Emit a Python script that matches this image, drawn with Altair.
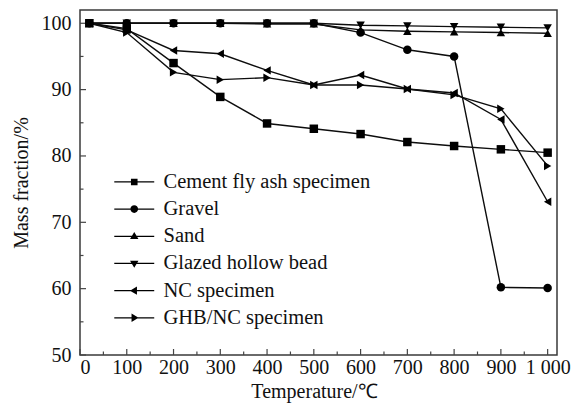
import altair as alt
import pandas as pd

# ---- data ----
temps = [20, 100, 200, 300, 400, 500, 600, 700, 800, 900, 1000]
cement = [100.0, 99.2, 94.0, 88.9, 84.9, 84.1, 83.3, 82.1, 81.5, 81.0, 80.5]
gravel = [100.0, 100.0, 100.0, 100.0, 100.0, 100.0, 98.6, 96.0, 95.0, 60.2, 60.1]
sand = [100.0, 100.0, 100.0, 100.0, 99.9, 99.9, 99.0, 98.8, 98.7, 98.6, 98.5]
glazed = [100.0, 100.0, 100.0, 100.0, 100.0, 100.0, 99.7, 99.6, 99.5, 99.4, 99.3]
nc = [100.0, 99.0, 95.9, 95.4, 92.9, 90.7, 92.2, 90.1, 89.5, 85.5, 73.1]
ghbnc = [100.0, 98.6, 92.6, 91.5, 91.8, 90.7, 90.7, 90.1, 89.2, 87.1, 78.5]

series_names = ["Cement fly ash specimen", "Gravel", "Sand",
                "Glazed hollow bead", "NC specimen", "GHB/NC specimen"]
series_values = [cement, gravel, sand, glazed, nc, ghbnc]
plot_shapes = ["square", "circle", "triangle-up", "triangle-down",
               "triangle-left", "triangle-right"]

# legend symbols: a short line (thin filled bar) with the marker in the middle
# (all sub-paths drawn clockwise so the nonzero fill does not cancel)
_ln = "M-3.33,-0.11H3.33V0.11H-3.33Z"
legend_shapes = [
    _ln + "M-0.55,-0.55H0.55V0.55H-0.55Z",
    _ln + "M0.64,0A0.64,0.64 0 1,1 -0.64,0A0.64,0.64 0 1,1 0.64,0Z",
    _ln + "M0,-0.72L0.7,0.45H-0.7Z",
    _ln + "M0,0.72L-0.7,-0.45H0.7Z",
    _ln + "M-0.72,0L0.45,-0.7V0.7Z",
    _ln + "M0.72,0L-0.45,0.7V-0.7Z",
]

x_major = [0, 100, 200, 300, 400, 500, 600, 700, 800, 900, 1000]
x_minor = [50, 150, 250, 350, 450, 550, 650, 750, 850, 950]
y_major = [50, 60, 70, 80, 90, 100]
y_minor = [55, 65, 75, 85, 95]

rows = []
for name, vals in zip(series_names, series_values):
    for t, v in zip(temps, vals):
        rows.append({"series": name, "temp": t, "mass": v})
df = pd.DataFrame(rows)

W, H = 477, 345
FONT = "Liberation Serif"

x_scale = alt.Scale(domain=[0, 1020], nice=False, zero=False)
y_scale = alt.Scale(domain=[50, 102], nice=False, zero=False)

x_enc = alt.X("temp:Q", scale=x_scale,
              axis=alt.Axis(values=x_major, title="Temperature/℃",
                            labelExpr="datum.value == 1000 ? '1 000' : datum.label",
                            ticks=False, domain=False, grid=False,
                            labelPadding=2, titlePadding=4, titleX=234))
y_enc = alt.Y("mass:Q", scale=y_scale,
              axis=alt.Axis(values=y_major, title="Mass fraction/%",
                            ticks=False, domain=False, grid=False,
                            labelPadding=9, titlePadding=10))

base = alt.Chart(df)

lines = base.mark_line(color="#0d0d0d", strokeWidth=1.4).encode(
    x=x_enc, y=y_enc, detail="series:N")

points = base.mark_point(filled=True, size=72, color="#000000", opacity=1).encode(
    x=x_enc, y=y_enc,
    shape=alt.Shape("series:N",
                    scale=alt.Scale(domain=series_names, range=plot_shapes),
                    legend=None))

legend_layer = base.transform_filter("false").mark_point(
    fill="#000000", stroke="#000000", strokeWidth=0.5, opacity=1).encode(
    x=x_enc, y=y_enc,
    shape=alt.Shape("series:N",
                    scale=alt.Scale(domain=series_names, range=legend_shapes),
                    legend=alt.Legend(title=None, orient="none", legendX=44, legendY=161.7,
                                      symbolSize=144, symbolStrokeWidth=0.5,
                                      symbolFillColor="#000000", symbolStrokeColor="#000000",
                                      symbolOpacity=1,
                                      labelFont=FONT, labelFontSize=20.5, labelColor="#111111",
                                      labelOffset=19, rowPadding=6.17, padding=0,
                                      labelLimit=400)))

tick_color = "#444444"
xt_major = alt.Chart(pd.DataFrame({"temp": x_major})).mark_rule(
    color=tick_color, strokeWidth=1.2).encode(x=x_enc, y=alt.value(H), y2=alt.value(H - 6))
xt_minor = alt.Chart(pd.DataFrame({"temp": x_minor})).mark_rule(
    color=tick_color, strokeWidth=1.2).encode(x=x_enc, y=alt.value(H), y2=alt.value(H - 3.5))
yt_major = alt.Chart(pd.DataFrame({"mass": y_major})).mark_rule(
    color=tick_color, strokeWidth=1.2).encode(y=y_enc, x=alt.value(0), x2=alt.value(6))
yt_minor = alt.Chart(pd.DataFrame({"mass": y_minor})).mark_rule(
    color=tick_color, strokeWidth=1.2).encode(y=y_enc, x=alt.value(0), x2=alt.value(3.5))

chart = alt.layer(
    xt_major, xt_minor, yt_major, yt_minor, lines, points, legend_layer
).resolve_scale(shape="independent").properties(
    width=W, height=H,
    padding={"left": 80, "top": 10, "right": 14, "bottom": 61},
    autosize=alt.AutoSizeParams(type="none"),
    background="white",
).configure_view(
    stroke="#3a3a3a", strokeWidth=1.5
).configure_axis(
    labelFont=FONT, labelFontSize=20, labelColor="#111111",
    titleFont=FONT, titleFontSize=20, titleColor="#111111", titleFontWeight="normal"
)

chart.save("out.html", embed_options={"renderer": "svg", "actions": False})
